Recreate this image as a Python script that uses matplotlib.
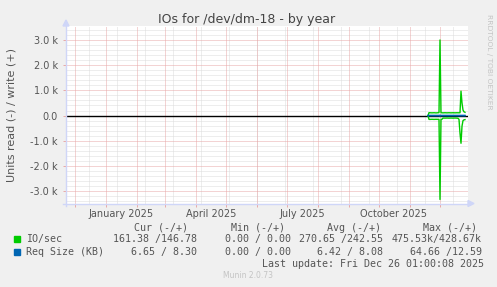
import matplotlib
matplotlib.use('Agg')
import matplotlib.pyplot as plt
from matplotlib.patches import Polygon, Rectangle
from matplotlib.lines import Line2D
import pandas as pd

W, H = 497, 287

# daily values from 2025-11-19 to 2025-12-26
first_day = '2025-11-19'
io_write = [0, 115, 112, 110, 108, 110, 112, 110, 105, 110, 112, 115, 3000,
            115, 110, 108, 110, 112, 110, 108, 110, 112, 110, 108, 110, 112,
            110, 108, 110, 112, 110, 110, 112, 970, 500, 220, 150, 130]
io_read = [0, -150, -152, -150, -148, -150, -152, -150, -148, -150, -150, -150, -3330,
           -150, -145, -100, -100, -102, -100, -98, -100, -102, -100, -98, -100, -102,
           -100, -98, -100, -102, -110, -150, -700, -1100, -420, -200, -170, -160]
req_write = [0, 8.1, 8.0, 8.2, 8.1, 8.0, 8.1, 8.2, 8.0, 8.1, 8.0, 8.1, 12.0,
             8.1, 8.0, 8.2, 8.1, 8.0, 8.1, 8.2, 8.0, 8.1, 8.0, 8.1, 8.0, 8.1,
             8.2, 8.0, 8.1, 8.0, 8.1, 8.2, 8.0, 8.1, 8.2, 8.3, 8.3, 8.3]
req_read = [0, -6.4, -6.5, -6.4, -6.3, -6.4, -6.5, -6.4, -6.3, -6.4, -6.4, -6.5, -20.0,
            -6.4, -6.3, -6.4, -6.5, -6.4, -6.3, -6.4, -6.5, -6.4, -6.4, -6.3, -6.4, -6.5,
            -6.4, -6.3, -6.4, -6.5, -6.4, -6.4, -6.5, -6.6, -6.6, -6.65, -6.65, -6.65]

y_ticks = [-3000, -2000, -1000, 0, 1000, 2000, 3000]
y_labels = ['-3.0 k', '-2.0 k', '-1.0 k', '0.0', '1.0 k', '2.0 k', '3.0 k']
x_label_dates = ['2025-01-16', '2025-04-16', '2025-07-16', '2025-10-16']
x_labels = ['January 2025', 'April 2025', 'July 2025', 'October 2025']

series_names = ['IO/sec', 'Req Size (KB)']
series_colors = ['#00CC00', '#0066B3']
cur_read = ['161.38', '6.65']
cur_write = ['146.78', '8.30']
min_read = ['0.00', '0.00']
min_write = ['0.00', '0.00']
avg_read = ['270.65', '6.42']
avg_write = ['242.55', '8.08']
max_read = ['475.53k', '64.66']
max_write = ['428.67k', '12.59']
headers = ['Cur (-/+)', 'Min (-/+)', 'Avg (-/+)', 'Max (-/+)']
last_update = 'Last update: Fri Dec 26 01:00:08 2025'

FONT = '#555555'
MGRID = '#E8A8A8'
GRID = '#DCDCDC'
AXIS = '#CFD6F8'


def fx(x):
    return x / W


def fy(y):
    return 1 - y / H


def cell(rd, wr):
    # read value, unit (or blank), slash, then write value field
    left = (rd if rd.endswith('k') else rd + ' ').rjust(7)
    right = wr.rjust(6)
    if right.startswith(' '):
        return left + '/' + right[1:]
    return left + '/' + right


fig = plt.figure(figsize=(W / 100, H / 100), dpi=100, facecolor='#F0F0F0')
ax = fig.add_axes([fx(66), fy(203.5), 402 / W, 177.5 / H])
ax.set_facecolor('#FFFFFF')

x0 = pd.Timestamp('2024-11-22')
x1 = pd.Timestamp('2025-12-29')
ax.set_xlim(x0, x1)
ax.set_ylim(-3490, 3555)

dots = (0, (1, 1))
# minor grid
for v in range(-3400, 3600, 200):
    if v % 1000 != 0:
        ax.axhline(v, color=GRID, lw=0.72, ls=dots, zorder=0)
for d in pd.date_range('2024-12-15', x1, freq='28D'):
    ax.axvline(d, color=GRID, lw=0.72, ls=dots, zorder=0)
# major grid
months = pd.date_range('2024-12-01', x1, freq='MS')
for d in months:
    ax.axvline(d, color=MGRID, lw=0.72, ls=dots, zorder=1)
for v in y_ticks:
    ax.axhline(v, color=MGRID, lw=0.72, ls=dots, zorder=1)

ax.axhline(0, color='black', lw=1.0, zorder=2)

days = pd.date_range(first_day, periods=len(io_write), freq='D')
ax.plot(days, io_write, color=series_colors[0], lw=1.0, zorder=3)
ax.plot(days, io_read, color=series_colors[0], lw=1.0, zorder=3)
ax.plot(days, req_write, color=series_colors[1], lw=1.0, zorder=4)
ax.plot(days, req_read, color=series_colors[1], lw=1.0, zorder=4)

ax.set_yticks(y_ticks)
ax.set_yticklabels(y_labels)
ax.tick_params(axis='y', length=2, width=0.7, color=MGRID, pad=4,
               labelsize=7, labelcolor=FONT)
ax.set_xticks(months)
ax.set_xticklabels([])
ax.set_xticks(pd.to_datetime(x_label_dates), minor=True)
ax.set_xticklabels(x_labels, minor=True)
ax.tick_params(axis='x', which='major', length=2.5, width=0.7, color=MGRID)
ax.tick_params(axis='x', which='minor', length=0, pad=4, labelsize=7, labelcolor=FONT)
for s in ax.spines.values():
    s.set_visible(False)

ax.set_ylabel('Units read (-) / write (+)', fontsize=8, color=FONT)
ax.yaxis.set_label_coords(fx(17 - 66) / (402 / W), 0.5)

# axes with arrows
fig.add_artist(Line2D([fx(66), fx(66)], [fy(206), fy(24)], color=AXIS, lw=1))
fig.add_artist(Line2D([fx(63), fx(470)], [fy(203.5), fy(203.5)], color=AXIS, lw=1))
fig.add_artist(Polygon([[fx(63), fy(26)], [fx(69), fy(26)], [fx(66), fy(20)]],
                       closed=True, color=AXIS))
fig.add_artist(Polygon([[fx(468), fy(200.5)], [fx(468), fy(206.5)], [fx(474), fy(203.5)]],
                       closed=True, color=AXIS))

fig.text(fx(247), fy(19), 'IOs for /dev/dm-18 - by year', ha='center', va='center',
         fontsize=9, color='#444444')
fig.text(fx(489), fy(14), 'RRDTOOL / TOBI OETIKER', rotation=270, ha='center', va='top',
         fontsize=5.4, color='#C4C4C4')

mono = dict(family='DejaVu Sans Mono', fontsize=7.2, color=FONT, va='center')
for h, xh in zip(headers, [134, 230.7, 326.7, 422.7]):
    fig.text(fx(xh), fy(227.7), h, ha='left', **mono)

# right edge of each column
cols = [(cur_read, cur_write, 197), (min_read, min_write, 291),
        (avg_read, avg_write, 383), (max_read, max_write, 482)]
for i, yrow in enumerate([239.3, 251.7]):
    fig.add_artist(Rectangle((fx(14), fy(yrow + 3)), 6 / W, 6 / H,
                             color=series_colors[i], transform=fig.transFigure))
    fig.text(fx(26), fy(yrow), series_names[i], ha='left', **mono)
    for rd, wr, xr in cols:
        fig.text(fx(xr), fy(yrow), cell(rd[i], wr[i]), ha='right', **mono)

fig.text(fx(261.7), fy(264), last_update, ha='left', **mono)
fig.text(fx(248), fy(276), 'Munin 2.0.73', ha='center', va='center',
         fontsize=5.5, color='#C4C4C4')

fig.savefig('out.png', dpi=100, facecolor=fig.get_facecolor())
